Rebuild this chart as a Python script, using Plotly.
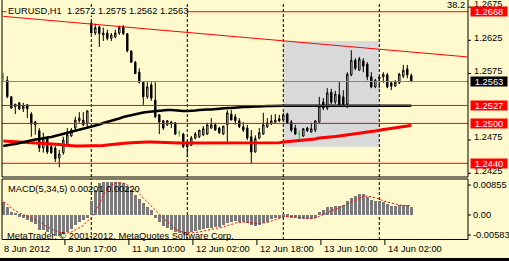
import plotly.graph_objects as go

BG = '#FFFACD'
FONT = 'Liberation Sans, Arial, sans-serif'
FS = 9.3

bars = list(range(103))
opens = [1.2570, 1.2565, 1.2540, 1.2525, 1.2531, 1.2522, 1.2528, 1.2514, 1.2502, 1.2489,
         1.2463, 1.2478, 1.2465, 1.2463, 1.2448, 1.2456, 1.2466, 1.2481, 1.2493, 1.2504,
         1.2505, 1.2499, 1.2651, 1.2636, 1.2645, 1.2633, 1.2636, 1.2628, 1.2630, 1.2636,
         1.2645, 1.2635, 1.2609, 1.2592, 1.2577, 1.2562, 1.2540, 1.2558, 1.2535, 1.2513,
         1.2504, 1.2498, 1.2502, 1.2501, 1.2486, 1.2484, 1.2469, 1.2467, 1.2478, 1.2480,
         1.2483, 1.2484, 1.2493, 1.2498, 1.2493, 1.2484, 1.2498, 1.2514, 1.2510, 1.2504,
         1.2495, 1.2493, 1.2480, 1.2457, 1.2478, 1.2484, 1.2495, 1.2499, 1.2502, 1.2507,
         1.2505, 1.2514, 1.2502, 1.2493, 1.2484, 1.2481, 1.2493, 1.2487, 1.2490, 1.2502,
         1.2532, 1.2523, 1.2547, 1.2532, 1.2543, 1.2540, 1.2529, 1.2573, 1.2595, 1.2580,
         1.2594, 1.2589, 1.2570, 1.2555, 1.2567, 1.2570, 1.2573, 1.2561, 1.2556, 1.2561,
         1.2571, 1.2582, 1.2572]
highs = [1.2576, 1.2571, 1.2541, 1.2529, 1.2532, 1.2531, 1.2529, 1.2517, 1.2504, 1.2493,
         1.2486, 1.2480, 1.2471, 1.2466, 1.2460, 1.2480, 1.2493, 1.2493, 1.2510, 1.2517,
         1.2517, 1.2519, 1.2653, 1.2650, 1.2647, 1.2644, 1.2641, 1.2636, 1.2641, 1.2647,
         1.2648, 1.2636, 1.2610, 1.2594, 1.2583, 1.2563, 1.2562, 1.2562, 1.2562, 1.2514,
         1.2505, 1.2505, 1.2504, 1.2502, 1.2490, 1.2486, 1.2475, 1.2481, 1.2487, 1.2489,
         1.2496, 1.2501, 1.2508, 1.2501, 1.2495, 1.2496, 1.2520, 1.2520, 1.2514, 1.2508,
         1.2502, 1.2498, 1.2490, 1.2482, 1.2493, 1.2516, 1.2508, 1.2513, 1.2514, 1.2513,
         1.2516, 1.2516, 1.2505, 1.2498, 1.2490, 1.2493, 1.2495, 1.2501, 1.2504, 1.2540,
         1.2538, 1.2553, 1.2552, 1.2549, 1.2562, 1.2550, 1.2577, 1.2610, 1.2598, 1.2600,
         1.2598, 1.2592, 1.2577, 1.2567, 1.2570, 1.2577, 1.2576, 1.2562, 1.2565, 1.2576,
         1.2588, 1.2588, 1.2575]
lows = [1.2564, 1.2538, 1.2522, 1.2514, 1.2520, 1.2517, 1.2508, 1.2480, 1.2483, 1.2457,
        1.2456, 1.2454, 1.2454, 1.2442, 1.2434, 1.2453, 1.2465, 1.2480, 1.2490, 1.2501,
        1.2496, 1.2495, 1.2635, 1.2633, 1.2615, 1.2624, 1.2625, 1.2624, 1.2628, 1.2633,
        1.2633, 1.2607, 1.2591, 1.2574, 1.2560, 1.2528, 1.2537, 1.2534, 1.2508, 1.2484,
        1.2490, 1.2496, 1.2493, 1.2483, 1.2480, 1.2463, 1.2449, 1.2466, 1.2476, 1.2478,
        1.2481, 1.2483, 1.2492, 1.2489, 1.2484, 1.2483, 1.2471, 1.2505, 1.2498, 1.2493,
        1.2487, 1.2475, 1.2440, 1.2456, 1.2476, 1.2483, 1.2493, 1.2498, 1.2501, 1.2502,
        1.2504, 1.2499, 1.2487, 1.2483, 1.2472, 1.2480, 1.2487, 1.2486, 1.2487, 1.2501,
        1.2520, 1.2520, 1.2529, 1.2529, 1.2525, 1.2525, 1.2523, 1.2571, 1.2580, 1.2579,
        1.2577, 1.2565, 1.2553, 1.2553, 1.2553, 1.2561, 1.2553, 1.2550, 1.2555, 1.2559,
        1.2568, 1.2568, 1.2562]
closes = [1.2570, 1.2540, 1.2523, 1.2529, 1.2522, 1.2526, 1.2522, 1.2499, 1.2498, 1.2463,
          1.2478, 1.2457, 1.2456, 1.2447, 1.2454, 1.2475, 1.2483, 1.2490, 1.2505, 1.2508,
          1.2498, 1.2519, 1.2636, 1.2644, 1.2635, 1.2636, 1.2628, 1.2633, 1.2636, 1.2644,
          1.2635, 1.2609, 1.2592, 1.2575, 1.2562, 1.2540, 1.2555, 1.2538, 1.2510, 1.2502,
          1.2493, 1.2504, 1.2499, 1.2484, 1.2486, 1.2465, 1.2465, 1.2478, 1.2484, 1.2490,
          1.2492, 1.2498, 1.2498, 1.2490, 1.2486, 1.2496, 1.2516, 1.2505, 1.2504, 1.2495,
          1.2490, 1.2478, 1.2457, 1.2477, 1.2486, 1.2498, 1.2501, 1.2504, 1.2505, 1.2504,
          1.2513, 1.2501, 1.2490, 1.2484, 1.2484, 1.2492, 1.2489, 1.2492, 1.2504, 1.2526,
          1.2523, 1.2546, 1.2532, 1.2544, 1.2526, 1.2528, 1.2574, 1.2595, 1.2583, 1.2597,
          1.2586, 1.2570, 1.2555, 1.2565, 1.2570, 1.2574, 1.2555, 1.2556, 1.2562, 1.2574,
          1.2580, 1.2573, 1.2563]
ma_black = [1.24660, 1.24675, 1.24683, 1.24690, 1.24705, 1.24720, 1.24735, 1.24750, 1.24758, 1.24765,
            1.24780, 1.24788, 1.24795, 1.24811, 1.24826, 1.24841, 1.24856, 1.24871, 1.24886, 1.24901,
            1.24916, 1.24931, 1.24946, 1.24969, 1.24984, 1.25006, 1.25021, 1.25036, 1.25059, 1.25074,
            1.25096, 1.25111, 1.25126, 1.25141, 1.25156, 1.25164, 1.25171, 1.25179, 1.25187, 1.25194,
            1.25202, 1.25202, 1.25202, 1.25194, 1.25194, 1.25187, 1.25187, 1.25187, 1.25194, 1.25202,
            1.25209, 1.25209, 1.25209, 1.25217, 1.25217, 1.25224, 1.25232, 1.25232, 1.25239, 1.25239,
            1.25247, 1.25247, 1.25254, 1.25254, 1.25254, 1.25262, 1.25262, 1.25262, 1.25266, 1.25266,
            1.25266, 1.25266, 1.25266, 1.25266, 1.25266, 1.25266, 1.25266, 1.25266, 1.25266, 1.25266,
            1.25266, 1.25266, 1.25266, 1.25266, 1.25266, 1.25266, 1.25266, 1.25266, 1.25266, 1.25266,
            1.25266, 1.25266, 1.25266, 1.25266, 1.25266, 1.25266, 1.25266, 1.25266, 1.25266, 1.25266,
            1.25266, 1.25266, 1.25266]
ma_red = [1.24735, 1.24732, 1.24729, 1.24726, 1.24723, 1.24720, 1.24717, 1.24714, 1.24711, 1.24708,
          1.24705, 1.24701, 1.24696, 1.24690, 1.24683, 1.24675, 1.24668, 1.24663, 1.24660, 1.24660,
          1.24660, 1.24660, 1.24660, 1.24660, 1.24660, 1.24668, 1.24675, 1.24683, 1.24690, 1.24698,
          1.24705, 1.24705, 1.24708, 1.24713, 1.24717, 1.24720, 1.24720, 1.24720, 1.24717, 1.24713,
          1.24708, 1.24705, 1.24705, 1.24705, 1.24705, 1.24705, 1.24705, 1.24705, 1.24705, 1.24705,
          1.24705, 1.24705, 1.24705, 1.24705, 1.24705, 1.24705, 1.24705, 1.24705, 1.24705, 1.24705,
          1.24705, 1.24705, 1.24705, 1.24705, 1.24705, 1.24705, 1.24705, 1.24705, 1.24705, 1.24708,
          1.24720, 1.24725, 1.24729, 1.24735, 1.24740, 1.24750, 1.24750, 1.24758, 1.24765, 1.24780,
          1.24783, 1.24788, 1.24795, 1.24803, 1.24811, 1.24818, 1.24826, 1.24841, 1.24848, 1.24856,
          1.24863, 1.24871, 1.24878, 1.24886, 1.24901, 1.24908, 1.24916, 1.24923, 1.24931, 1.24946,
          1.24953, 1.24961, 1.24976]
macd_hist = [0.00305, 0.00199, 0.00079, 0.00041, -0.00041, -0.00079, -0.00120, -0.00161, -0.00223, -0.00360,
             -0.00360, -0.00415, -0.00463, -0.00496, -0.00496, -0.00463, -0.00415, -0.00336, -0.00240, -0.00161,
             -0.00120, -0.00065, 0.00336, 0.00600, 0.00760, 0.00784, 0.00784, 0.00784, 0.00784, 0.00784,
             0.00760, 0.00679, 0.00600, 0.00480, 0.00384, 0.00281, 0.00199, 0.00120, -0.00065, -0.00161,
             -0.00257, -0.00319, -0.00360, -0.00400, -0.00439, -0.00463, -0.00463, -0.00415, -0.00384, -0.00360,
             -0.00336, -0.00319, -0.00305, -0.00295, -0.00281, -0.00240, -0.00199, -0.00161, -0.00144, -0.00161,
             -0.00175, -0.00199, -0.00240, -0.00264, -0.00240, -0.00199, -0.00161, -0.00103, -0.00079, -0.00065,
             -0.00041, -0.00041, -0.00065, -0.00079, -0.00103, -0.00103, -0.00103, -0.00096, -0.00065, 0.00065,
             0.00120, 0.00192, 0.00199, 0.00223, 0.00223, 0.00240, 0.00336, 0.00415, 0.00463, 0.00496,
             0.00496, 0.00439, 0.00360, 0.00336, 0.00336, 0.00319, 0.00257, 0.00223, 0.00223, 0.00240,
             0.00240, 0.00240, 0.00201]
macd_signal = [0.00312, 0.00264, 0.00168, 0.00096, 0.00048, 0.00012, -0.00024, -0.00072, -0.00120, -0.00168,
               -0.00216, -0.00288, -0.00336, -0.00384, -0.00420, -0.00432, -0.00432, -0.00408, -0.00360, -0.00312,
               -0.00252, -0.00144, -0.00072, 0.00096, 0.00264, 0.00480, 0.00624, 0.00719, 0.00767, 0.00767,
               0.00767, 0.00719, 0.00671, 0.00600, 0.00504, 0.00384, 0.00288, 0.00192, 0.00096, 0.00000,
               -0.00072, -0.00168, -0.00240, -0.00336, -0.00384, -0.00420, -0.00432, -0.00432, -0.00420, -0.00408,
               -0.00384, -0.00360, -0.00336, -0.00324, -0.00312, -0.00288, -0.00264, -0.00228, -0.00192, -0.00180,
               -0.00168, -0.00180, -0.00192, -0.00204, -0.00204, -0.00192, -0.00180, -0.00144, -0.00108, -0.00072,
               -0.00048, -0.00036, -0.00036, -0.00048, -0.00060, -0.00072, -0.00084, -0.00084, -0.00072, -0.00036,
               0.00000, 0.00048, 0.00096, 0.00144, 0.00180, 0.00216, 0.00264, 0.00312, 0.00360, 0.00408,
               0.00444, 0.00456, 0.00432, 0.00408, 0.00384, 0.00336, 0.00312, 0.00276, 0.00252, 0.00240,
               0.00228, 0.00223, 0.00220]

separator_bars = [22, 46, 70, 94]
time_tick_bars = [0, 16, 32, 48, 64, 80, 96]
time_tick_labels = ['8 Jun 2012', '8 Jun 17:00', '11 Jun 10:00', '12 Jun 02:00',
                    '12 Jun 18:00', '13 Jun 10:00', '14 Jun 02:00']
level_prices = [1.2668, 1.2527, 1.2500, 1.2440]
level_labels = ['1.2668', '1.2527', '1.2500', '1.2440']
bid_price = 1.2563
bid_label = '1.2563'
price_tick_values = [1.2675, 1.2625, 1.2575, 1.2475, 1.2425]
price_tick_labels = ['1.2675', '1.2625', '1.2575', '1.2475', '1.2425']
trend_bars = [0, 116]
trend_prices = [1.2661, 1.2600]
rect_bars = [70, 94]
rect_prices = [1.2465, 1.2624]
macd_zero = 0.0
macd_axis_labels = ['0.00855', '0.00', '-0.00583']
fibo_label = '38.2'
title_text = 'EURUSD,H1  1.2572 1.2575 1.2562 1.2563'
macd_title = 'MACD(5,34,5) 0.00201 0.00220'
copyright_text = 'MetaTrader, \u00a9 2001-2012, MetaQuotes Software Corp.'

MAIN_RANGE = [1.24194, 1.26826]
MACD_RANGE = [-0.00600, 0.00863]
MAIN_DOM = [0.26471, 1.0]
MACD_DOM = [0.0, 0.25630]

fig = go.Figure()

norm = [i for i in bars if opens[i] != closes[i]]
doji = [i for i in bars if opens[i] == closes[i]]

fig.add_trace(go.Candlestick(
    x=[bars[i] for i in norm], open=[opens[i] for i in norm], high=[highs[i] for i in norm],
    low=[lows[i] for i in norm], close=[closes[i] for i in norm],
    increasing=dict(line=dict(color='black', width=1), fillcolor='white'),
    decreasing=dict(line=dict(color='black', width=1), fillcolor='black'),
    whiskerwidth=0, showlegend=False, hoverinfo='skip', xaxis='x', yaxis='y'))
fig.add_trace(go.Candlestick(
    x=[bars[i] for i in doji], open=[opens[i] for i in doji], high=[highs[i] for i in doji],
    low=[lows[i] for i in doji], close=[closes[i] for i in doji],
    increasing=dict(line=dict(color='#00E000', width=1), fillcolor='#00E000'),
    decreasing=dict(line=dict(color='#00E000', width=1), fillcolor='#00E000'),
    whiskerwidth=0, showlegend=False, hoverinfo='skip', xaxis='x', yaxis='y'))

fig.add_trace(go.Scatter(x=bars, y=ma_red, mode='lines', line=dict(color='#FF0000', width=3),
                         showlegend=False, hoverinfo='skip', xaxis='x', yaxis='y'))
fig.add_trace(go.Scatter(x=bars, y=ma_black, mode='lines', line=dict(color='black', width=2.5),
                         showlegend=False, hoverinfo='skip', xaxis='x', yaxis='y'))
fig.add_trace(go.Scatter(x=trend_bars, y=trend_prices, mode='lines', line=dict(color='#FF0000', width=1),
                         showlegend=False, hoverinfo='skip', xaxis='x', yaxis='y'))

fig.add_trace(go.Bar(x=bars, y=macd_hist, width=0.75, marker=dict(color='#7A7A7A', line=dict(width=0)),
                     showlegend=False, hoverinfo='skip', xaxis='x', yaxis='y2'))
fig.add_trace(go.Scatter(x=bars, y=macd_signal, mode='lines',
                         line=dict(color='#FF0000', width=1, dash='2px,2px'),
                         showlegend=False, hoverinfo='skip', xaxis='x', yaxis='y2'))

shapes = []
shapes.append(dict(type='rect', xref='x', yref='y', x0=rect_bars[0], x1=rect_bars[1],
                   y0=rect_prices[0], y1=rect_prices[1], fillcolor='#D9D9D9',
                   line=dict(width=0), layer='below'))
for b in separator_bars:
    shapes.append(dict(type='line', xref='x', yref='y', x0=b, x1=b, y0=MAIN_RANGE[0], y1=MAIN_RANGE[1],
                       line=dict(color='black', width=1, dash='3px,2px'), layer='below'))
    shapes.append(dict(type='line', xref='x', yref='y2', x0=b, x1=b, y0=MACD_RANGE[0], y1=MACD_RANGE[1],
                       line=dict(color='black', width=1, dash='3px,2px'), layer='below'))
for p in level_prices:
    shapes.append(dict(type='line', xref='paper', yref='y', x0=0, x1=1, y0=p, y1=p,
                       line=dict(color='#FF0000', width=1)))
shapes.append(dict(type='line', xref='paper', yref='y', x0=0, x1=1, y0=bid_price, y1=bid_price,
                   line=dict(color='#778899', width=1)))
# title background (hides the level line under the text)
shapes.append(dict(type='rect', xref='paper', yref='paper', x0=0.0095, x1=0.3970,
                   y0=(240 - 15.5) / 238, y1=(240 - 7.5) / 238, fillcolor=BG, line=dict(width=0)))
# frames
shapes.append(dict(type='rect', xref='paper', yref='paper', x0=0, x1=1, y0=MAIN_DOM[0], y1=1.02,
                   line=dict(color='black', width=1)))
shapes.append(dict(type='rect', xref='paper', yref='paper', x0=0, x1=1, y0=0.002, y1=MACD_DOM[1],
                   line=dict(color='black', width=1)))
for p in price_tick_values:
    shapes.append(dict(type='line', xref='paper', xsizemode='pixel', xanchor=1, x0=0, x1=3,
                       yref='y', y0=p, y1=p, line=dict(color='black', width=1)))
for fy in [(240 - 185) / 61, (240 - 235) / 61]:
    shapes.append(dict(type='line', xref='paper', xsizemode='pixel', xanchor=1, x0=0, x1=3,
                       yref='y2 domain', y0=fy, y1=fy, line=dict(color='black', width=1)))
shapes.append(dict(type='line', xref='paper', xsizemode='pixel', xanchor=1, x0=0, x1=3,
                   yref='y2', y0=macd_zero, y1=macd_zero, line=dict(color='black', width=1)))
for b in time_tick_bars:
    shapes.append(dict(type='line', xref='x', x0=b - 0.6, x1=b - 0.6, yref='paper',
                       y0=0, y1=-5 / 238, line=dict(color='black', width=1)))
shapes.append(dict(type='rect', xref='paper', yref='paper', x0=-0.01, x1=1.1,
                   y0=(240 - 261) / 238, y1=(240 - 258) / 238, fillcolor='black', line=dict(width=0)))

ann = []
txt = dict(family=FONT, size=FS, color='black')
ann.append(dict(xref='paper', yref='paper', x=0, xshift=4, y=(240 - 11.2) / 238, xanchor='left',
                yanchor='middle', text=title_text, showarrow=False, font=txt))
ann.append(dict(xref='paper', yref='y', x=1, xshift=-1, y=level_prices[0], yshift=6.5, xanchor='right',
                yanchor='middle', text=fibo_label, showarrow=False, font=txt))
for p, t in zip(price_tick_values, price_tick_labels):
    ann.append(dict(xref='paper', yref='y', x=1, xshift=4, y=p, yshift=2.6, xanchor='left',
                    yanchor='middle', text=t, showarrow=False, font=txt))
for p, t in zip(level_prices, level_labels):
    ann.append(dict(xref='paper', yref='y', x=1, xshift=2, y=p, xanchor='left', yanchor='middle',
                    text=t, showarrow=False, bgcolor='#FF0000', width=36, height=9, borderpad=0,
                    font=dict(family=FONT, size=FS, color='white')))
ann.append(dict(xref='paper', yref='y', x=1, xshift=2, y=bid_price, xanchor='left', yanchor='middle',
                text=bid_label, showarrow=False, bgcolor='black', width=36, height=9, borderpad=0,
                font=dict(family=FONT, size=FS, color='white')))
ann.append(dict(xref='paper', yref='y2 domain', x=1, xshift=3, y=(240 - 185) / 61, xanchor='left',
                yanchor='middle', text=macd_axis_labels[0], showarrow=False, font=txt))
ann.append(dict(xref='paper', yref='y2', x=1, xshift=3, y=macd_zero, xanchor='left',
                yanchor='middle', text=macd_axis_labels[1], showarrow=False, font=txt))
ann.append(dict(xref='paper', yref='y2 domain', x=1, xshift=3, y=(240 - 235) / 61, xanchor='left',
                yanchor='middle', text=macd_axis_labels[2], showarrow=False, font=txt))
ann.append(dict(xref='paper', yref='paper', x=0, xshift=4, y=(240 - 189) / 238, xanchor='left',
                yanchor='middle', text=macd_title, showarrow=False, font=txt))
ann.append(dict(xref='paper', yref='paper', x=0, xshift=3, y=(240 - 235.5) / 238, xanchor='left',
                yanchor='middle', text=copyright_text, showarrow=False, font=txt))
for b, t in zip(time_tick_bars, time_tick_labels):
    ann.append(dict(xref='x', yref='paper', x=b, xshift=-1, y=(240 - 249) / 238, xanchor='left',
                    yanchor='middle', text=t, showarrow=False, font=txt))

fig.update_layout(
    width=509, height=261, margin=dict(l=2, r=41, t=2, b=21),
    paper_bgcolor=BG, plot_bgcolor=BG, showlegend=False,
    boxgap=0.5, bargap=0,
    xaxis=dict(range=[-0.325, 116.175], domain=[0, 1], anchor='y2', showticklabels=False,
               showgrid=False, zeroline=False, showline=False, ticks='',
               rangeslider=dict(visible=False), fixedrange=True),
    yaxis=dict(range=MAIN_RANGE, domain=MAIN_DOM, anchor='x', showticklabels=False,
               showgrid=False, zeroline=False, showline=False, ticks='', fixedrange=True),
    yaxis2=dict(range=MACD_RANGE, domain=MACD_DOM, anchor='x', showticklabels=False,
                showgrid=False, zeroline=False, showline=False, ticks='', fixedrange=True),
    shapes=shapes, annotations=ann,
)

fig.write_html('out.html')
